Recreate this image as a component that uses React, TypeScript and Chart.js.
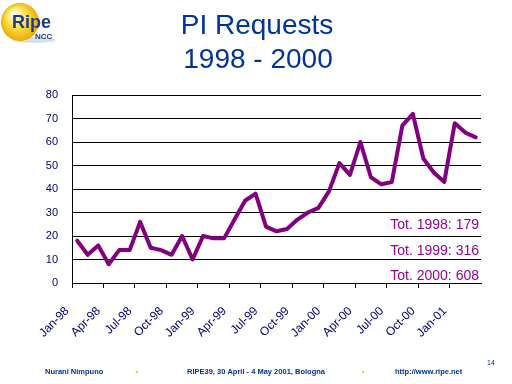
import React, { useEffect, useRef } from "react";
import { Chart, registerables } from "chart.js";

Chart.register(...registerables);

const months: string[] = [
  "Jan-98", "Feb-98", "Mar-98", "Apr-98", "May-98", "Jun-98", "Jul-98", "Aug-98", "Sep-98", "Oct-98", "Nov-98", "Dec-98",
  "Jan-99", "Feb-99", "Mar-99", "Apr-99", "May-99", "Jun-99", "Jul-99", "Aug-99", "Sep-99", "Oct-99", "Nov-99", "Dec-99",
  "Jan-00", "Feb-00", "Mar-00", "Apr-00", "May-00", "Jun-00", "Jul-00", "Aug-00", "Sep-00", "Oct-00", "Nov-00", "Dec-00",
  "Jan-01", "Feb-01", "Mar-01",
];

const requests1998: number[] = [18, 12, 16, 8, 14, 14, 26, 15, 14, 12, 20, 10];
const requests1999: number[] = [20, 19, 19, 27, 35, 38, 24, 22, 23, 27, 30, 32];
const requests2000: number[] = [39, 51, 46, 60, 45, 42, 43, 67, 72, 53, 47, 43];
const requests2001: number[] = [68, 64, 62];

const yTicks: number[] = [0, 10, 20, 30, 40, 50, 60, 70, 80];

const titleLines: string[] = ["PI Requests", "1998 - 2000"];
const totals: string[] = ["Tot. 1998: 179", "Tot. 1999: 316", "Tot. 2000: 608"];
const footerLeft = "Nurani Nimpuno";
const footerMid = "RIPE39, 30 April - 4 May 2001, Bologna";
const footerRight = "http://www.ripe.net";
const pageNo = "14";

const FONT = "'Liberation Sans', Arial, sans-serif";

const decorPlugin = {
  id: "decor",
  afterDraw(chart: any) {
    const ctx = chart.ctx as CanvasRenderingContext2D;
    const area = chart.chartArea;
    ctx.save();

    // Logo
    const g = ctx.createRadialGradient(14, 13, 2, 20, 22, 20);
    g.addColorStop(0, "#fffbe6");
    g.addColorStop(0.45, "#ffe04a");
    g.addColorStop(1, "#e8a800");
    ctx.fillStyle = "rgba(150,160,190,0.35)";
    ctx.beginPath();
    ctx.ellipse(34, 40, 22, 3, 0, 0, Math.PI * 2);
    ctx.fill();
    ctx.fillStyle = g;
    ctx.beginPath();
    ctx.arc(20, 22, 19, 0, Math.PI * 2);
    ctx.fill();
    ctx.fillStyle = "#1a3a8f";
    ctx.textAlign = "left";
    ctx.textBaseline = "alphabetic";
    ctx.font = `bold 18px ${FONT}`;
    ctx.fillText("Ripe", 12, 28);
    ctx.font = `bold 8px ${FONT}`;
    ctx.fillText("NCC", 35, 39);

    // Title
    ctx.fillStyle = "#0033a0";
    ctx.textAlign = "center";
    ctx.font = `28px ${FONT}`;
    ctx.fillText(titleLines[0], 257, 34);
    ctx.fillText(titleLines[1], 258, 68);

    // Totals
    ctx.fillStyle = "#990099";
    ctx.textAlign = "right";
    ctx.font = `14px ${FONT}`;
    const offs = [54, 28, 3];
    totals.forEach((t, i) => ctx.fillText(t, area.right - 2, area.bottom - offs[i]));

    // Footer
    ctx.fillStyle = "#003399";
    ctx.textAlign = "left";
    ctx.font = `bold 7.5px ${FONT}`;
    ctx.fillText(footerLeft, 45, 374);
    ctx.fillText(footerMid, 187, 374);
    ctx.fillText(footerRight, 395, 374);
    ctx.font = `7px ${FONT}`;
    ctx.fillText(pageNo, 487, 365);
    ctx.fillStyle = "#ffcc00";
    ctx.fillRect(136, 371, 2, 2);
    ctx.fillRect(362, 371, 2, 2);

    ctx.restore();
  },
};

export default function App() {
  const ref = useRef<HTMLCanvasElement | null>(null);

  useEffect(() => {
    if (!ref.current) return;
    const values = [...requests1998, ...requests1999, ...requests2000, ...requests2001];
    const chart = new Chart(ref.current, {
      type: "line",
      data: {
        labels: months,
        datasets: [
          {
            data: values,
            borderColor: "#800080",
            borderWidth: 4,
            pointRadius: 0,
            tension: 0,
            fill: false,
            borderJoinStyle: "round",
            borderCapStyle: "round",
          },
        ],
      },
      options: {
        responsive: false,
        animation: false,
        devicePixelRatio: 1,
        layout: { padding: { top: 95, right: 31, left: 0, bottom: 0 } },
        plugins: { legend: { display: false }, tooltip: { enabled: false }, title: { display: false } },
        scales: {
          x: {
            type: "category",
            offset: true,
            grid: {
              offset: true,
              drawOnChartArea: false,
              drawTicks: true,
              tickLength: 5,
              color: (c: any) => (c.index % 3 === 0 ? "#000000" : "rgba(0,0,0,0)"),
            },
            border: { display: true, color: "#000000", width: 1 },
            ticks: {
              autoSkip: false,
              maxRotation: 45,
              minRotation: 45,
              padding: 16,
              labelOffset: -10,
              color: "#000080",
              font: { family: FONT, size: 12 },
              callback: (_v: any, i: number) => (i % 3 === 0 ? months[i] : ""),
            },
            afterFit: (s: any) => {
              s.height = 101;
              s.paddingLeft = 0;
              s.paddingRight = 0;
            },
          },
          y: {
            min: yTicks[0],
            max: yTicks[yTicks.length - 1],
            grid: { color: "#000000", lineWidth: 1, drawTicks: false },
            border: { display: true, color: "#000000", width: 1 },
            afterBuildTicks: (s: any) => {
              s.ticks = yTicks.map((v) => ({ value: v }));
            },
            ticks: {
              padding: 14,
              color: "#000080",
              font: { family: FONT, size: 11 },
            },
            afterFit: (s: any) => {
              s.width = 72;
            },
          },
        },
      },
      plugins: [decorPlugin],
    });
    return () => chart.destroy();
  }, []);

  return (
    <div style={{ position: "fixed", left: 0, top: 0, width: 512, height: 384, background: "#ffffff" }}>
      <canvas ref={ref} width={512} height={384} style={{ display: "block", width: 512, height: 384 }} />
    </div>
  );
}
